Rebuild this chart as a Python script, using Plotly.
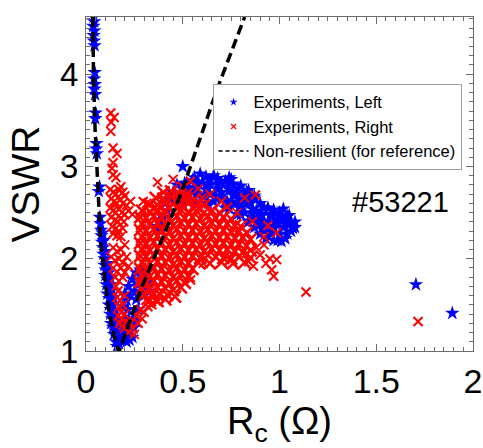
import plotly.graph_objects as go

# ---------------- data ----------------
# Non-resilient reference curve (dashed black)
ref_x = [0.035, 0.039, 0.047, 0.058, 0.075, 0.098, 0.120, 0.141, 0.167, 0.172, 0.28, 0.49, 0.68, 0.82]
ref_y = [4.62, 3.95, 3.40, 2.86, 2.20, 1.77, 1.40, 1.20, 1.00, 1.00, 1.65, 2.70, 3.85, 4.62]

# Experiments, Left (blue stars)
blue_branch = [
    (0.040, 4.62), (0.042, 4.57), (0.038, 4.52), (0.043, 4.47), (0.039, 4.42), (0.041, 4.36), (0.044, 4.31),
    (0.045, 4.02), (0.042, 3.95), (0.046, 3.89), (0.043, 3.84), (0.047, 3.78),
    (0.050, 3.58), (0.048, 3.52), (0.054, 3.25), (0.052, 3.19), (0.056, 3.14),
    (0.070, 2.78), (0.066, 2.73),
    (0.072, 2.45), (0.075, 2.38), (0.078, 2.31), (0.080, 2.25), (0.085, 2.28), (0.083, 2.18), (0.088, 2.12),
    (0.092, 2.20), (0.090, 2.05), (0.096, 2.00), (0.100, 2.08), (0.095, 1.93), (0.102, 1.88), (0.108, 1.95),
    (0.100, 1.82), (0.110, 1.78), (0.118, 1.85), (0.125, 1.80), (0.105, 1.72), (0.115, 1.68), (0.125, 1.72),
    (0.135, 1.66), (0.110, 1.62), (0.120, 1.57), (0.130, 1.60), (0.142, 1.58), (0.118, 1.50), (0.128, 1.45),
    (0.140, 1.50), (0.150, 1.44), (0.125, 1.40), (0.135, 1.35), (0.148, 1.38), (0.158, 1.33), (0.130, 1.30),
    (0.140, 1.26), (0.152, 1.22), (0.165, 1.25), (0.145, 1.18), (0.160, 1.15), (0.175, 1.18), (0.190, 1.20),
    (0.155, 1.10), (0.170, 1.08), (0.185, 1.12), (0.200, 1.15), (0.215, 1.18), (0.230, 1.22), (0.245, 1.25),
    (0.210, 1.10), (0.225, 1.12), (0.240, 1.15), (0.160, 1.05),
    (0.200, 1.30), (0.220, 1.35), (0.250, 1.40), (0.270, 1.45), (0.240, 1.30), (0.260, 1.32),
]
blue_bump = [
    (0.200, 1.62), (0.220, 1.70), (0.240, 1.78), (0.260, 1.85), (0.280, 1.88), (0.300, 1.84), (0.230, 1.60),
    (0.250, 1.65), (0.270, 1.72), (0.290, 1.75), (0.310, 1.70), (0.210, 1.55), (0.260, 1.56), (0.300, 1.60),
    (0.320, 1.65), (0.330, 1.75), (0.280, 1.62), (0.190, 1.48), (0.215, 1.45),
]
blue_main = [
    (0.370, 2.35), (0.390, 2.30), (0.400, 2.45), (0.410, 2.60), (0.420, 2.52), (0.380, 2.42), (0.430, 2.65),
    (0.450, 2.72), (0.470, 2.80), (0.500, 3.00), (0.510, 2.82), (0.530, 2.77), (0.550, 2.85), (0.570, 2.80),
    (0.590, 2.92), (0.600, 2.82), (0.620, 2.75), (0.640, 2.85), (0.660, 2.90), (0.680, 2.80), (0.700, 2.72),
    (0.720, 2.84), (0.740, 2.78), (0.750, 2.86), (0.770, 2.70), (0.790, 2.65), (0.810, 2.62), (0.830, 2.72),
    (0.850, 2.60), (0.870, 2.68), (0.880, 2.52), (0.900, 2.48), (0.920, 2.40), (0.940, 2.55), (0.960, 2.46),
    (0.980, 2.38), (1.000, 2.50), (1.020, 2.42), (1.040, 2.46), (1.060, 2.30), (1.080, 2.34), (1.030, 2.22),
    (0.990, 2.20), (0.950, 2.30), (0.910, 2.32), (0.890, 2.38), (0.860, 2.45), (0.820, 2.50), (0.800, 2.55),
    (0.760, 2.60), (0.730, 2.62), (0.700, 2.65), (0.670, 2.68), (0.640, 2.70), (0.610, 2.68), (0.580, 2.70),
    (0.550, 2.72), (0.520, 2.70), (0.490, 2.68), (0.460, 2.62), (0.500, 2.60), (0.560, 2.62), (0.630, 2.60),
    (0.720, 2.55), (0.780, 2.48), (0.840, 2.40), (0.930, 2.22), (1.050, 2.38), (0.970, 2.35),
    (0.56, 2.88), (0.62, 2.89), (0.68, 2.87), (0.74, 2.88),
    (0.52, 2.82), (0.58, 2.83), (0.64, 2.81), (0.70, 2.82), (0.76, 2.81), (0.80, 2.79),
    (0.50, 2.76), (0.56, 2.77), (0.62, 2.75), (0.68, 2.76), (0.74, 2.75), (0.79, 2.76), (0.84, 2.74),
    (0.58, 2.69), (0.64, 2.70), (0.70, 2.68), (0.76, 2.69), (0.82, 2.68), (0.87, 2.66),
    (0.66, 2.62), (0.72, 2.63), (0.78, 2.61), (0.84, 2.62), (0.90, 2.60),
    (0.74, 2.55), (0.80, 2.56), (0.86, 2.54), (0.92, 2.55), (0.97, 2.53), (1.02, 2.54),
    (0.80, 2.48), (0.86, 2.49), (0.91, 2.47), (0.96, 2.48), (1.01, 2.46), (1.05, 2.47),
    (0.84, 2.41), (0.89, 2.42), (0.94, 2.40), (0.99, 2.41), (1.04, 2.39), (1.08, 2.40),
    (0.87, 2.34), (0.92, 2.35), (0.97, 2.33), (1.02, 2.34), (1.07, 2.33),
    (0.90, 2.27), (0.95, 2.28), (1.00, 2.26), (1.04, 2.27),
    (0.97, 2.20), (1.01, 2.19),
    (1.705, 1.72), (1.893, 1.41),
]

# Experiments, Right (red crosses)
red_left = [
    (0.128, 3.58), (0.145, 3.53), (0.130, 3.48), (0.128, 3.38), (0.140, 3.20), (0.160, 3.14), (0.140, 3.04),
    (0.134, 2.98), (0.140, 2.91), (0.155, 2.88), (0.180, 2.78),
    (0.125, 2.75), (0.140, 2.72), (0.155, 2.70), (0.170, 2.75), (0.190, 2.72), (0.200, 2.68), (0.130, 2.65),
    (0.145, 2.62), (0.160, 2.60), (0.175, 2.64), (0.190, 2.60), (0.210, 2.58), (0.125, 2.55), (0.140, 2.52),
    (0.155, 2.50), (0.170, 2.54), (0.185, 2.50), (0.200, 2.48), (0.220, 2.52), (0.130, 2.45), (0.150, 2.42),
    (0.165, 2.40), (0.180, 2.44), (0.195, 2.40), (0.135, 2.35), (0.150, 2.32), (0.170, 2.30), (0.190, 2.33),
    (0.140, 2.27), (0.160, 2.25), (0.180, 2.24), (0.230, 2.62), (0.240, 2.48),
    (0.140, 2.12), (0.160, 2.08), (0.180, 2.10), (0.200, 2.15), (0.130, 2.02), (0.150, 1.98), (0.170, 2.00),
    (0.190, 1.96), (0.210, 2.02), (0.140, 1.90), (0.160, 1.86), (0.180, 1.90), (0.200, 1.85), (0.220, 1.92),
    (0.150, 1.80), (0.170, 1.76), (0.190, 1.80),
    (0.155, 1.70), (0.165, 1.65), (0.160, 1.58), (0.175, 1.55), (0.170, 1.48), (0.180, 1.42), (0.165, 1.38),
    (0.185, 1.35), (0.190, 1.28), (0.200, 1.25), (0.175, 1.30), (0.210, 1.32), (0.200, 1.40), (0.190, 1.50),
    (0.200, 1.60),
    (0.220, 1.20), (0.240, 1.25), (0.250, 1.18), (0.270, 1.30), (0.260, 1.38), (0.290, 1.35), (0.300, 1.42),
    (0.280, 1.45), (0.230, 1.30), (0.320, 1.48), (0.340, 1.50), (0.360, 1.55), (0.310, 1.55), (0.350, 1.62),
]
red_main = [
    (0.40, 2.72), (0.44, 2.73), (0.48, 2.71), (0.52, 2.70),
    (0.36, 2.66), (0.40, 2.65), (0.44, 2.67), (0.48, 2.66), (0.52, 2.65), (0.56, 2.64),
    (0.33, 2.59), (0.37, 2.58), (0.41, 2.60), (0.45, 2.59), (0.49, 2.58), (0.53, 2.60), (0.57, 2.57), (0.61, 2.58),
    (0.29, 2.52), (0.33, 2.51), (0.37, 2.53), (0.41, 2.52), (0.45, 2.50), (0.49, 2.53), (0.53, 2.51), (0.57, 2.52),
    (0.61, 2.50), (0.65, 2.52), (0.69, 2.50),
    (0.28, 2.45), (0.31, 2.44), (0.35, 2.46), (0.39, 2.45), (0.43, 2.43), (0.47, 2.46), (0.51, 2.44), (0.55, 2.45),
    (0.59, 2.43), (0.63, 2.46), (0.67, 2.44), (0.71, 2.45), (0.75, 2.43),
    (0.29, 2.38), (0.33, 2.37), (0.37, 2.39), (0.41, 2.38), (0.45, 2.36), (0.49, 2.39), (0.53, 2.37), (0.57, 2.38),
    (0.61, 2.36), (0.65, 2.39), (0.69, 2.37), (0.73, 2.38), (0.77, 2.36), (0.80, 2.35),
    (0.28, 2.31), (0.31, 2.30), (0.35, 2.32), (0.39, 2.31), (0.43, 2.29), (0.47, 2.32), (0.51, 2.30), (0.55, 2.31),
    (0.59, 2.29), (0.63, 2.32), (0.67, 2.30), (0.71, 2.31), (0.75, 2.29), (0.79, 2.30), (0.83, 2.28),
    (0.29, 2.24), (0.33, 2.23), (0.37, 2.25), (0.41, 2.24), (0.45, 2.22), (0.49, 2.25), (0.53, 2.23), (0.57, 2.24),
    (0.61, 2.22), (0.65, 2.25), (0.69, 2.23), (0.73, 2.24), (0.77, 2.22), (0.81, 2.23), (0.85, 2.21),
    (0.28, 2.17), (0.31, 2.16), (0.35, 2.18), (0.39, 2.17), (0.43, 2.15), (0.47, 2.18), (0.51, 2.16), (0.55, 2.17),
    (0.59, 2.15), (0.63, 2.18), (0.67, 2.16), (0.71, 2.17), (0.75, 2.15), (0.79, 2.16), (0.83, 2.14),
    (0.29, 2.10), (0.33, 2.09), (0.37, 2.11), (0.41, 2.10), (0.45, 2.08), (0.49, 2.11), (0.53, 2.09), (0.57, 2.10),
    (0.61, 2.08), (0.65, 2.11), (0.69, 2.09), (0.73, 2.10), (0.77, 2.08), (0.81, 2.07), (0.85, 2.09),
    (0.28, 2.03), (0.31, 2.02), (0.35, 2.04), (0.39, 2.03), (0.43, 2.01), (0.47, 2.04), (0.51, 2.02), (0.55, 2.03),
    (0.59, 2.01), (0.63, 2.04), (0.67, 2.02), (0.71, 2.01), (0.75, 2.00), (0.79, 2.02), (0.85, 2.01),
    (0.29, 1.96), (0.33, 1.95), (0.37, 1.97), (0.41, 1.96), (0.45, 1.94), (0.49, 1.97), (0.53, 1.95), (0.58, 1.96),
    (0.64, 1.95), (0.70, 1.96), (0.76, 1.95), (0.82, 1.96),
    (0.28, 1.89), (0.31, 1.88), (0.35, 1.90), (0.39, 1.89), (0.43, 1.87), (0.47, 1.90), (0.51, 1.88), (0.55, 1.89),
    (0.29, 1.82), (0.33, 1.81), (0.37, 1.83), (0.41, 1.82), (0.45, 1.80), (0.49, 1.83), (0.53, 1.81),
    (0.28, 1.75), (0.31, 1.74), (0.35, 1.76), (0.39, 1.75), (0.43, 1.73), (0.47, 1.76), (0.51, 1.74),
    (0.29, 1.68), (0.33, 1.67), (0.37, 1.69), (0.41, 1.68), (0.45, 1.66), (0.49, 1.69),
    (0.30, 1.61), (0.34, 1.60), (0.38, 1.62), (0.42, 1.61), (0.46, 1.59),
    (0.33, 1.55), (0.37, 1.54), (0.41, 1.56),
]
red_sparse = [
    (0.296, 2.62), (0.313, 2.60), (0.370, 2.83), (0.450, 2.86), (0.500, 2.78), (0.540, 2.84), (0.580, 2.76),
    (0.640, 2.70), (0.700, 2.62), (0.600, 2.66), (0.730, 2.56),
    (0.820, 2.66), (0.875, 2.69), (0.780, 2.50), (0.860, 2.40), (0.940, 2.36),
    (0.900, 2.04), (0.930, 1.95), (0.960, 1.88), (0.970, 1.81), (0.985, 1.99), (0.920, 2.24), (0.920, 2.15),
    (0.865, 1.92), (0.840, 1.97), (0.985, 2.28), (0.830, 2.06), (0.880, 2.12), (0.950, 2.00),
    (0.540, 1.77), (0.606, 1.95),
    (1.137, 1.64), (1.716, 1.32),
]

x_ticks = [0, 0.5, 1, 1.5, 2]
x_ticklabels = ["0", "0.5", "1", "1.5", "2"]
y_ticks = [1, 2, 3, 4]
y_ticklabels = ["1", "2", "3", "4"]

legend_names = ["Experiments, Left", "Experiments, Right", "Non-resilient (for reference)"]
shot_label = "#53221"

# ---------------- figure ----------------
FONT = "Liberation Sans, Arial, sans-serif"
BLUE = "#0000ff"
RED = "#ff0000"

blue_pts = blue_branch + blue_bump + blue_main
red_pts = red_left + red_sparse

fig = go.Figure()

fig.add_trace(go.Scatter(
    x=[p[0] for p in blue_pts], y=[p[1] for p in blue_pts],
    mode="markers", showlegend=False,
    marker=dict(symbol="star", size=11, color=BLUE, line=dict(width=0)),
))
fig.add_trace(go.Scatter(
    x=[p[0] for p in red_main], y=[p[1] for p in red_main],
    mode="markers", showlegend=False,
    marker=dict(symbol="x-thin-open", size=12, color=RED, line=dict(width=2.6, color=RED)),
))
fig.add_trace(go.Scatter(
    x=[p[0] for p in red_pts], y=[p[1] for p in red_pts],
    mode="markers", showlegend=False,
    marker=dict(symbol="x-thin-open", size=9, color=RED, line=dict(width=2, color=RED)),
))
fig.add_trace(go.Scatter(
    x=ref_x, y=ref_y, mode="lines", showlegend=False,
    line=dict(color="black", width=3.5, dash="10px,5px"),
))

# legend-only entries (small symbols like the reference legend)
fig.add_trace(go.Scatter(x=[None], y=[None], mode="markers", name=legend_names[0],
                         marker=dict(symbol="star", size=6, color=BLUE)))
fig.add_trace(go.Scatter(x=[None], y=[None], mode="markers", name=legend_names[1],
                         marker=dict(symbol="x-thin-open", size=5, color=RED, line=dict(width=1.2, color=RED))))
fig.add_trace(go.Scatter(x=[None], y=[None], mode="lines", name=legend_names[2],
                         line=dict(color="black", width=1.5, dash="4px,3px")))

axis_common = dict(
    showgrid=False, zeroline=False, showline=True, linecolor="#6e6e6e", linewidth=1.2,
    mirror="allticks", ticks="inside", ticklen=7, tickcolor="#6e6e6e", tickwidth=1,
    automargin=False,
)

fig.update_xaxes(
    range=[0, 2], tickvals=x_ticks, ticktext=x_ticklabels,
    tickfont=dict(family=FONT, size=34, color="black"),
    minor=dict(dtick=0.05, ticks="inside", ticklen=4, tickcolor="#6e6e6e"),
    title=dict(text="R<sub>c</sub> (Ω)", font=dict(family=FONT, size=38, color="black"), standoff=2),
    **axis_common,
)
fig.update_yaxes(
    range=[1, 4.62], tickvals=y_ticks, ticktext=y_ticklabels,
    tickfont=dict(family=FONT, size=33, color="black"),
    minor=dict(dtick=0.1, ticks="inside", ticklen=4, tickcolor="#6e6e6e"),
    title=dict(text="VSWR", font=dict(family=FONT, size=39, color="black"), standoff=8),
    **axis_common,
)

fig.add_annotation(
    x=1.625, y=2.62, xref="x", yref="y", text=shot_label, showarrow=False,
    font=dict(family="Liberation Sans Narrow, Liberation Sans, sans-serif", size=29, color="black"),
)

fig.update_layout(
    template="none",
    width=483, height=448,
    margin=dict(l=86, r=10, t=17, b=97),
    paper_bgcolor="white", plot_bgcolor="white",
    font=dict(family=FONT, color="black"),
    legend=dict(
        x=0.327, y=0.80, xanchor="left", yanchor="top",
        bgcolor="white", bordercolor="#a0a0a0", borderwidth=1,
        font=dict(family=FONT, size=16.5, color="black"),
        itemwidth=30, tracegroupgap=0,
    ),
)

fig.write_html(
    "out.html",
    config={"displayModeBar": False},
    post_script="document.body.style.margin='0';document.body.style.overflow='hidden';",
)
